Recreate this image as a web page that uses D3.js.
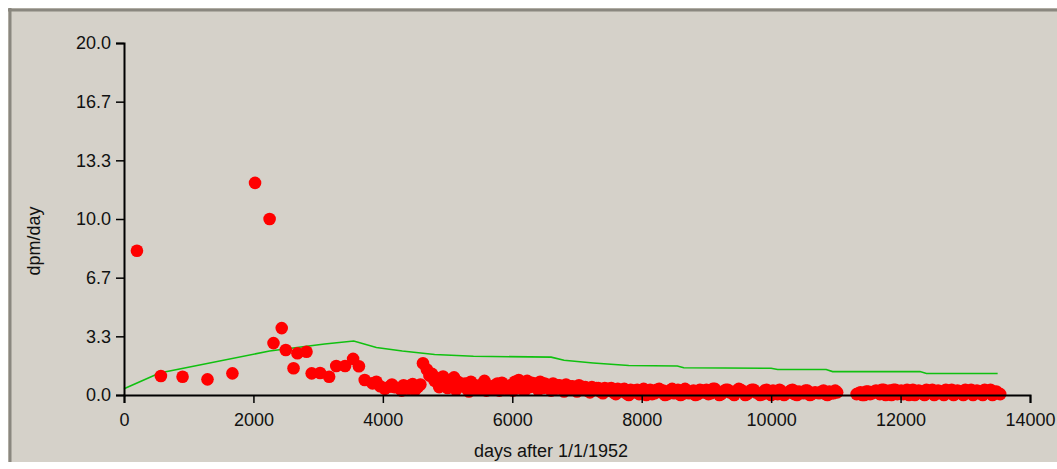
<!DOCTYPE html>
<html><head><meta charset="utf-8">
<script src="https://cdn.jsdelivr.net/npm/d3@7"></script>
<style>
html,body{margin:0;padding:0;background:#ffffff;}
svg{display:block;}
text{font-family:"Liberation Sans",Arial,sans-serif;fill:#111;}
</style></head>
<body>
<svg id="chart" width="1057" height="469"></svg>
<script>
// ---- data ----
const xTicks = [0, 2000, 4000, 6000, 8000, 10000, 12000, 14000];
const yTicks = [0, 10/3, 20/3, 10, 40/3, 50/3, 20];
const xLabel = "days after 1/1/1952";
const yLabel = "dpm/day";

const measDays = [200, 570, 905, 1290, 1675, 2025, 2250, 2310, 2437, 2500, 2620, 2680, 2820, 2900, 3030, 3170, 3280, 3416, 3540, 3630, 3720, 3840, 3960, 4100, 4180,
 4250, 4320, 4400, 4460, 4540, 4620, 4680, 4760, 4840, 4900, 4960, 5030, 5100, 5160, 5230, 5300, 5360, 5430, 5500, 5570, 5640, 5700, 5770, 5840, 5900, 5970,
 6040, 6100, 6170, 6230, 6300, 6360, 6430, 6500, 6560, 6630, 6700, 6760, 6830, 6900, 6960, 7030, 7100, 7160, 7230, 7300, 7360, 7430, 7500, 7560, 7630, 7700, 7760, 7830, 7900, 7960,
 8030, 8100, 8160, 8230, 8300, 8360, 8430, 8500, 8560, 8630, 8700, 8760, 8830, 8900, 8960, 9030, 9100, 9160, 9230, 9300, 9360, 9430, 9500, 9560, 9630, 9700, 9760, 9830, 9900, 9960,
 10030, 10100, 10160, 10230, 10300, 10360, 10430, 10500, 10560, 10630, 10680, 10780, 10840, 10900, 10960, 11020,
 11320, 11380, 11440, 11500, 11560, 11620, 11680, 11740, 11800, 11860, 11920, 11980, 12040, 12100, 12160, 12220, 12280, 12340, 12400, 12460, 12520, 12580, 12640, 12700, 12760, 12820, 12880, 12940, 13000, 13060, 13120, 13180, 13240, 13300, 13360, 13420, 13480, 13540];
const measValues = [8.2, 1.08, 1.04, 0.89, 1.23, 12.05, 10.0, 2.95, 3.8, 2.56, 1.52, 2.37, 2.46, 1.23, 1.25, 1.04, 1.65, 1.65, 2.05, 1.63, 0.85, 0.66, 0.5, 0.47, 0.45,
 0.40, 0.55, 0.35, 0.62, 0.45, 1.80, 1.45, 1.20, 0.95, 0.70, 0.55, 0.85, 1.00, 0.75, 0.50, 0.35, 0.75, 0.55, 0.40, 0.80, 0.50, 0.30, 0.65, 0.70, 0.40, 0.55,
 0.75, 0.85, 0.55, 0.80, 0.70, 0.45, 0.75, 0.65, 0.40, 0.65, 0.55, 0.35, 0.60, 0.50, 0.30, 0.55, 0.45, 0.25, 0.45, 0.40, 0.20, 0.40, 0.35, 0.15, 0.35, 0.30, 0.10, 0.30, 0.25, 0.05,
 0.35, 0.20, 0.05, 0.30, 0.15, 0.00, 0.25, 0.10, 0.30, 0.05, 0.25, 0.15, 0.00, 0.30, 0.15, 0.05, 0.35, 0.20, 0.05, 0.30, 0.15, 0.00, 0.35, 0.20, 0.05, 0.30, 0.15, 0.00, 0.25, 0.10,
 0.25, 0.05, 0.20, 0.10, 0.25, 0.05, 0.20, 0.10, 0.25, 0.05, 0.15, 0.20, 0.05, 0.20, 0.10, 0.15,
 0.05, 0.15, 0.00, 0.20, 0.10, 0.25, 0.05, 0.30, 0.15, 0.00, 0.30, 0.15, 0.05, 0.30, 0.15, 0.00, 0.25, 0.10, 0.30, 0.15, 0.00, 0.25, 0.10, 0.30, 0.15, 0.00, 0.25, 0.10, 0.30, 0.15, 0.00, 0.25, 0.10, 0.30, 0.15, 0.00, 0.20, 0.05];

// additional measurements filling the dense band
const extraDays = [3900, 4030, 4140, 4290, 4360, 4430, 4500, 4580, 4720, 4800, 4870, 4930, 5000, 5070, 5130, 5200, 5270, 5330, 5400, 5470, 5530, 5600, 5670, 5730, 5800, 5870, 5940,
 6010, 6070, 6140, 6200, 6270, 6330, 6400, 6470, 6530, 6600, 6670, 6730, 6800, 6870, 6930, 7000, 7070, 7130, 7200, 7270, 7330, 7400, 7470, 7530, 7600, 7670, 7730, 7800, 7870, 7930,
 8000, 8070, 8130, 8200, 8270, 8330, 8400, 8470, 8530, 8600, 8670, 8730, 8800, 8870, 8930, 9000, 9070, 9130, 9200, 9270, 9330, 9400, 9470, 9530, 9600, 9670, 9730, 9800, 9870, 9930,
 10000, 10070, 10130, 10200, 10270, 10330, 10400, 10470, 10530, 10600, 10740, 10810, 10870, 10930, 10990,
 11350, 11410, 11470, 11530, 11590, 11650, 11710, 11770, 11830, 11890, 11950, 12010, 12070, 12130, 12190, 12250, 12310, 12370, 12430, 12490, 12550, 12610, 12670, 12730, 12790, 12850, 12910, 12970, 13030, 13090, 13150, 13210, 13270, 13330, 13390, 13450, 13510];
const extraValues = [0.75, 0.35, 0.60, 0.25, 0.40, 0.55, 0.30, 0.60, 1.10, 0.80, 0.45, 1.05, 0.40, 0.60, 0.30, 0.55, 0.65, 0.20, 0.45, 0.30, 0.60, 0.25, 0.45, 0.55, 0.25, 0.40, 0.30,
 0.25, 0.50, 0.35, 0.30, 0.45, 0.65, 0.30, 0.40, 0.60, 0.25, 0.35, 0.55, 0.20, 0.35, 0.50, 0.20, 0.30, 0.45, 0.15, 0.30, 0.40, 0.10, 0.25, 0.40, 0.05, 0.20, 0.35, 0.00, 0.15, 0.30,
 0.20, 0.00, 0.30, 0.10, 0.35, 0.25, 0.05, 0.35, 0.15, 0.00, 0.35, 0.10, 0.25, 0.05, 0.25, 0.30, 0.10, 0.35, 0.00, 0.20, 0.30, 0.10, 0.25, 0.30, 0.00, 0.20, 0.30, 0.10, 0.05, 0.30,
 0.00, 0.15, 0.30, 0.00, 0.15, 0.30, 0.00, 0.15, 0.25, 0.00, 0.10, 0.25, 0.00, 0.10, 0.25,
 0.10, 0.00, 0.20, 0.05, 0.20, 0.15, 0.30, 0.00, 0.25, 0.30, 0.05, 0.25, 0.20, 0.00, 0.30, 0.10, 0.20, 0.00, 0.20, 0.30, 0.10, 0.20, 0.00, 0.20, 0.30, 0.10, 0.20, 0.00, 0.20, 0.30, 0.10, 0.20, 0.00, 0.20, 0.30, 0.10, 0.10];

const modelDays = [0, 550, 2250, 3100, 3550, 3900, 4300, 4800, 5400, 6600, 6800, 7250, 7800, 8550, 8650, 10000, 10100, 10850, 10950, 12300, 12400, 13500];
const modelValues = [0.35, 1.25, 2.5, 2.9, 3.07, 2.7, 2.5, 2.3, 2.2, 2.15, 1.97, 1.82, 1.68, 1.65, 1.55, 1.52, 1.45, 1.45, 1.33, 1.33, 1.22, 1.22];

// ---- drawing ----
const svg = d3.select("#chart");
const W = 1057, H = 469;

// panel background and sunken border
svg.append("rect").attr("x", 8).attr("y", 8).attr("width", W - 8).attr("height", 454).attr("fill", "#d5d1c9");
svg.append("line").attr("x1", 8).attr("x2", W).attr("y1", 10).attr("y2", 10).attr("stroke", "#8a877f").attr("stroke-width", 3);
svg.append("line").attr("x1", 10).attr("x2", 10).attr("y1", 8).attr("y2", 462).attr("stroke", "#8a877f").attr("stroke-width", 3);

const x = d3.scaleLinear().domain([0, 14000]).range([124, 1030]);
const y = d3.scaleLinear().domain([0, 20]).range([395, 43]);

// model line
const pts = modelDays.map((d, i) => [d, modelValues[i]]);
svg.append("path").datum(pts)
  .attr("fill", "none").attr("stroke", "#10c010").attr("stroke-width", 1.6)
  .attr("d", d3.line().x(d => x(d[0])).y(d => y(d[1])));

// measured points
const mp = measDays.map((d, i) => [d, measValues[i]])
  .concat(extraDays.map((d, i) => [d, extraValues[i]]));
svg.append("g").selectAll("circle").data(mp).join("circle")
  .attr("cx", d => x(d[0])).attr("cy", d => y(d[1])).attr("r", 6.3)
  .attr("fill", "#ff0000");

// axes
const xAxis = d3.axisBottom(x).tickValues(xTicks).tickFormat(d3.format("d")).tickSizeInner(8).tickSizeOuter(8).tickPadding(10);
const gx = svg.append("g").attr("transform", "translate(0,395)").call(xAxis);
gx.select(".domain").attr("stroke", "#000").attr("stroke-width", 2);
gx.selectAll(".tick line").attr("stroke", "#000").attr("stroke-width", 1.5);
gx.selectAll(".tick text").style("font-size", "18px").attr("fill", "#111").attr("font-family", "Liberation Sans, Arial, sans-serif");

const yAxis = d3.axisLeft(y).tickValues(yTicks).tickFormat(d3.format(".1f")).tickSizeInner(8).tickSizeOuter(8).tickPadding(5);
const gy = svg.append("g").attr("transform", "translate(124,0)").call(yAxis);
gy.select(".domain").attr("stroke", "#000").attr("stroke-width", 2);
gy.selectAll(".tick line").attr("stroke", "#000").attr("stroke-width", 1.5);
gy.selectAll(".tick text").style("font-size", "18px").attr("fill", "#111").attr("font-family", "Liberation Sans, Arial, sans-serif");

svg.append("text").attr("x", 551).attr("y", 457).attr("text-anchor", "middle")
  .style("font-size", "18px").text(xLabel);
svg.append("text").attr("transform", "translate(40,241) rotate(-90)").attr("text-anchor", "middle")
  .style("font-size", "18px").text(yLabel);
</script>
</body></html>
